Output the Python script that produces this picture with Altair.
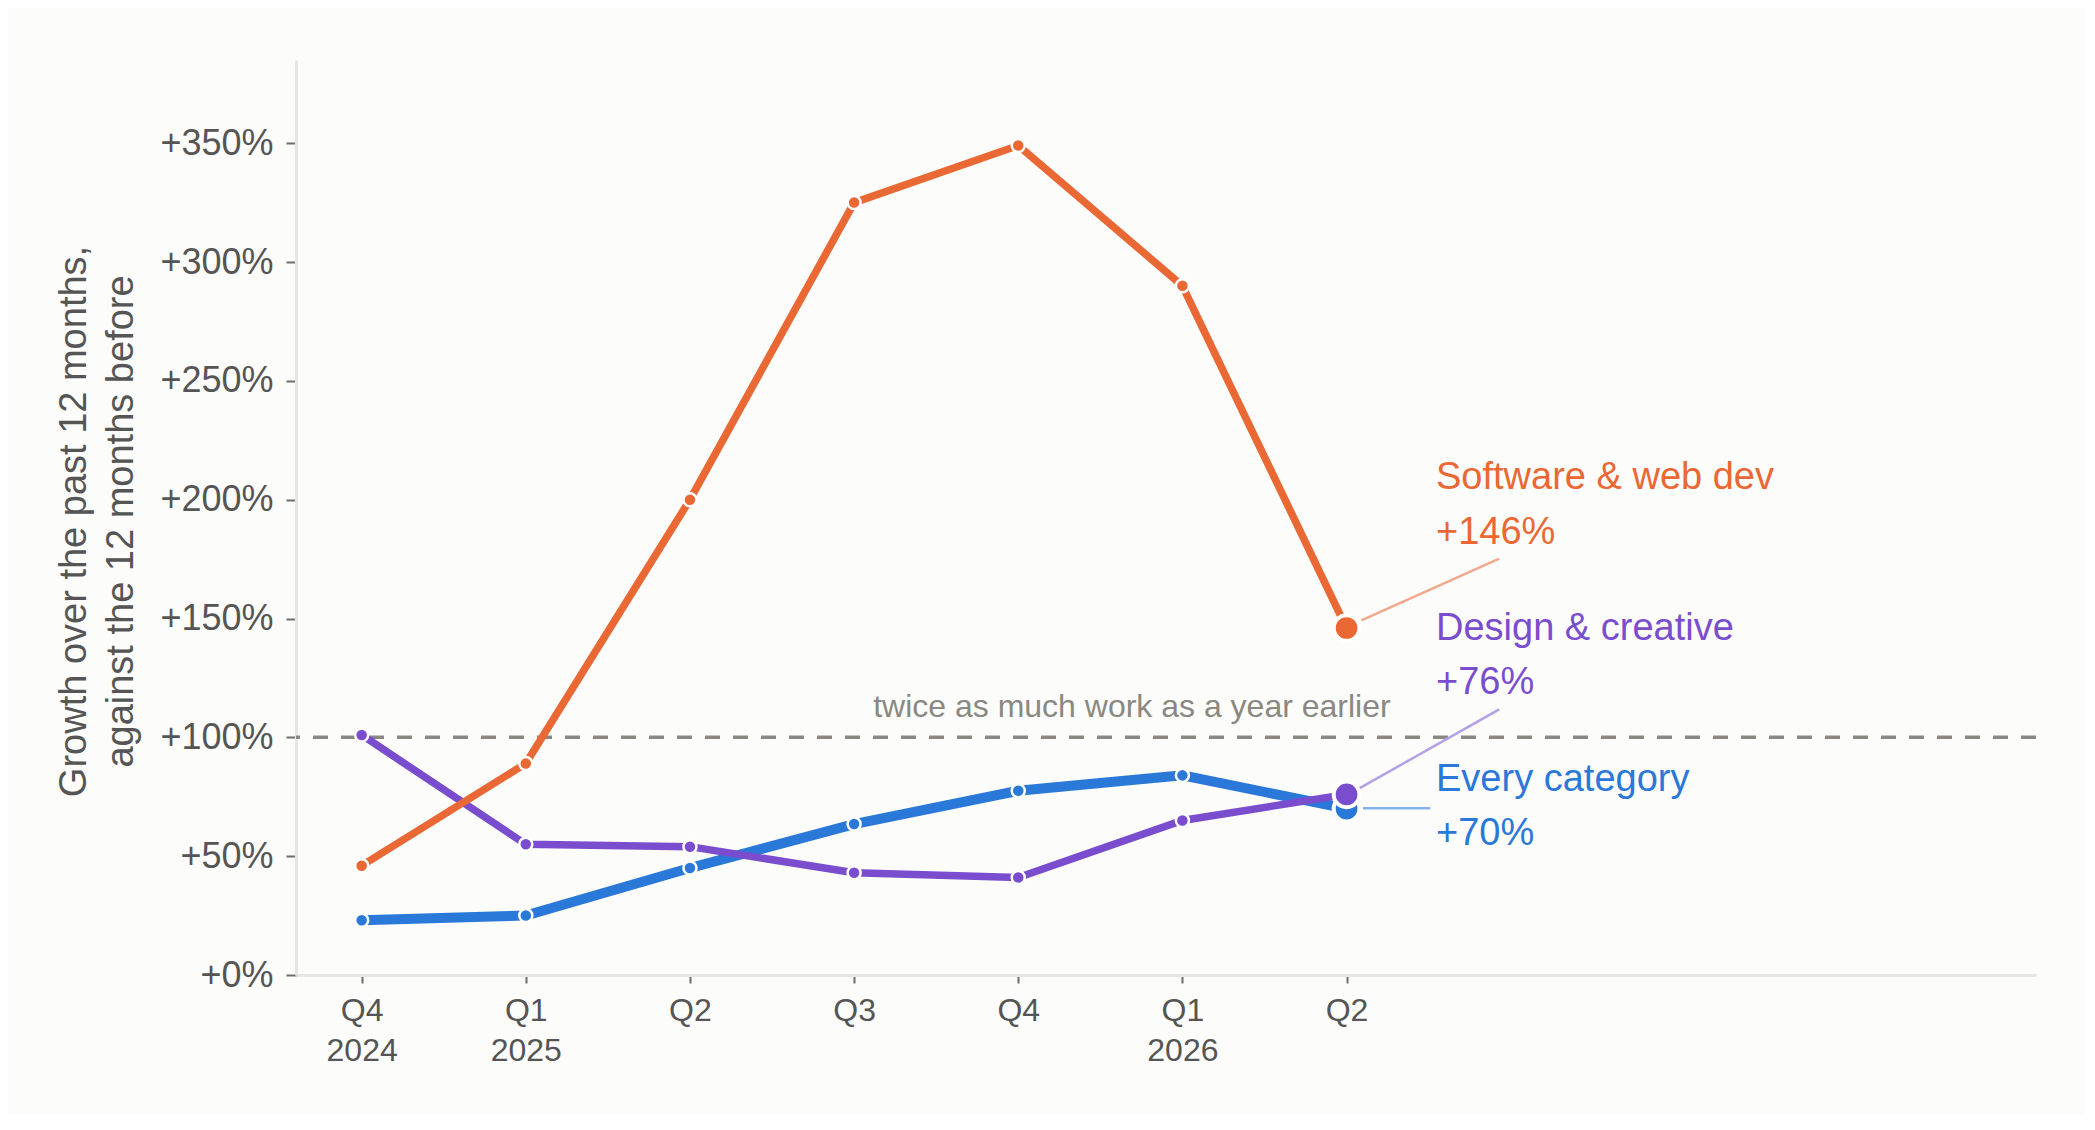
import altair as alt
import pandas as pd
import json

# ---------------- data ----------------
quarters = ["Q4", "Q1", "Q2", "Q3", "Q4", "Q1", "Q2"]
years = ["2024", "2025", "", "", "", "2026", ""]
software = [46, 89, 200, 325, 349, 290, 146]
design = [101, 55, 54, 43, 41, 65, 76]
every = [23, 25, 45, 63.5, 77.5, 84, 70]

series_names = ["Every category", "Design & creative", "Software & web dev"]
series_values = [every, design, software]
series_colors = ["#2A78D8", "#7A4DCF", "#EA6834"]
connector_colors = ["#86B2EC", "#B4A0E6", "#F2A98B"]
line_widths = [10, 7.5, 7.5]

reference_value = 100
reference_text = "twice as much work as a year earlier"

# ---------------- annotation layout (data units) ----------------
label_x = 6.545
name_y = [82, 145.4, 209]
value_y = [59.2, 122.7, 186]
conn_x1 = [6.10, 6.08, 6.09]
conn_y1 = [70.2, 78.6, 149.2]
conn_x2 = [6.51, 6.93, 6.93]
conn_y2 = [70.2, 111.8, 175.2]
ref_text_x = 3.116
ref_text_y = 108.4

FONT = "Liberation Sans"
BG = "#FCFCFA"

xscale = alt.Scale(domain=[-0.4, 10.2], nice=False, zero=False)
yscale = alt.Scale(domain=[0, 385], nice=False, zero=False)

label_expr = (
    "(" + json.dumps(years) + "[datum.value] != '') ? ["
    + json.dumps(quarters) + "[datum.value], " + json.dumps(years) + "[datum.value]] : "
    + json.dumps(quarters) + "[datum.value]"
)

xaxis = alt.Axis(
    values=list(range(len(quarters))),
    labelExpr=label_expr,
    title=None,
    grid=False,
    domainColor="#E6E6E3",
    domainWidth=3,
    tickColor="#6E6E6E",
    tickWidth=2,
    tickSize=8,
    labelFontSize=32,
    labelLineHeight=40,
    labelColor="#555555",
    labelFont=FONT,
    labelPadding=12,
)
yaxis = alt.Axis(
    values=[0, 50, 100, 150, 200, 250, 300, 350],
    labelExpr="'+' + datum.value + '%'",
    title=["Growth over the past 12 months,", "against the 12 months before"],
    titleFontSize=38,
    titleFontWeight="normal",
    titleColor="#555555",
    titleFont=FONT,
    titleLineHeight=47,
    titleX=-203,
    titleY=461,
    grid=False,
    domainColor="#E6E6E3",
    domainWidth=3,
    tickColor="#6E6E6E",
    tickWidth=2,
    tickSize=10,
    labelFontSize=36,
    labelColor="#555555",
    labelFont=FONT,
    labelPadding=13,
)


def X(field):
    return alt.X(field, type="quantitative", scale=xscale, axis=xaxis)


def Y(field):
    return alt.Y(field, type="quantitative", scale=yscale, axis=yaxis)


layers = []

# reference rule
ref_df = pd.DataFrame({"y": [reference_value]})
layers.append(
    alt.Chart(ref_df)
    .mark_rule(color="#8A8880", strokeWidth=3.5, strokeDash=[15, 13])
    .encode(y=Y("y"))
)
ref_t = pd.DataFrame({"x": [ref_text_x], "y": [ref_text_y], "t": [reference_text]})
layers.append(
    alt.Chart(ref_t)
    .mark_text(align="left", baseline="alphabetic", fontSize=32, font=FONT, color="#8A8880")
    .encode(x=X("x"), y=Y("y"), text="t:N")
)

n = len(quarters)
for i, name in enumerate(series_names):
    vals = series_values[i]
    df = pd.DataFrame({"x": list(range(n)), "y": vals})
    col = series_colors[i]
    layers.append(
        alt.Chart(df)
        .mark_line(color=col, strokeWidth=line_widths[i])
        .encode(x=X("x"), y=Y("y"))
    )
    layers.append(
        alt.Chart(df.iloc[:-1])
        .mark_point(filled=True, shape="circle", size=170, fill=col, stroke="white",
                    strokeWidth=2.5, opacity=1)
        .encode(x=X("x"), y=Y("y"))
    )
    layers.append(
        alt.Chart(df.iloc[-1:])
        .mark_point(filled=True, shape="circle", size=660, fill=col, stroke="white",
                    strokeWidth=4, opacity=1)
        .encode(x=X("x"), y=Y("y"))
    )

for i, name in enumerate(series_names):
    cdf = pd.DataFrame({"x": [conn_x1[i]], "y": [conn_y1[i]], "x2": [conn_x2[i]], "y2": [conn_y2[i]]})
    layers.append(
        alt.Chart(cdf)
        .mark_rule(color=connector_colors[i], strokeWidth=2.5)
        .encode(x=X("x"), y=Y("y"), x2="x2:Q", y2="y2:Q")
    )
    last = series_values[i][-1]
    ldf = pd.DataFrame({
        "x": [label_x, label_x],
        "y": [name_y[i], value_y[i]],
        "t": [name, "+" + str(int(round(last))) + "%"],
    })
    layers.append(
        alt.Chart(ldf)
        .mark_text(align="left", baseline="middle", fontSize=38, font=FONT, color=series_colors[i])
        .encode(x=X("x"), y=Y("y"), text="t:N")
    )

chart = (
    alt.layer(*layers)
    .properties(
        width=1740,
        height=915,
        autosize=alt.AutoSizeParams(type="none"),
        padding={"left": 288, "top": 52, "right": 50, "bottom": 140},
        background=BG,
    )
    .configure_view(stroke=None)
)

chart.save("out.html", embed_options={"renderer": "svg", "actions": False})
